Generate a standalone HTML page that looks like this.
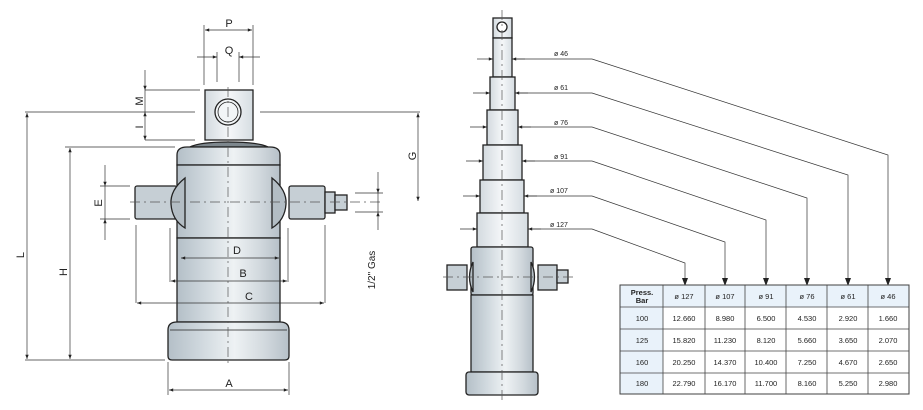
<!DOCTYPE html>
<html><head><meta charset="utf-8"><style>
html,body{margin:0;padding:0;background:#fff;}
svg{display:block;font-family:"Liberation Sans",sans-serif;}
</style></head><body>
<svg width="923" height="410" viewBox="0 0 923 410" xmlns="http://www.w3.org/2000/svg">
<defs>
<linearGradient id="g" x1="0" x2="1" y1="0" y2="0">
<stop offset="0" stop-color="#b4bfc7"/><stop offset="0.25" stop-color="#cdd6dc"/><stop offset="0.55" stop-color="#eef2f4"/><stop offset="0.8" stop-color="#d2d9de"/><stop offset="1" stop-color="#b6c0c8"/>
</linearGradient>
<linearGradient id="gl" x1="0" x2="1" y1="0" y2="0">
<stop offset="0" stop-color="#d3dadf"/><stop offset="0.5" stop-color="#f5f7f9"/><stop offset="1" stop-color="#d6dde2"/>
</linearGradient>
<marker id="ar" viewBox="0 0 10 10" refX="10" refY="5" markerWidth="7" markerHeight="6" orient="auto-start-reverse"><path d="M0,1 L10,5 L0,9z" fill="#222"/></marker>
</defs>
<g stroke="#222" stroke-width="1.3">
<rect x="205" y="90" width="48" height="50" fill="url(#gl)"/>
<circle cx="228" cy="112" r="13" fill="#f2f5f7"/><circle cx="228" cy="112" r="10" fill="none" stroke-width="0.8"/>
<path d="M190,147 Q200,142 228,142 Q258,142 268,147z" fill="#7d878d"/>
<path d="M177,165 L177,155 Q177,147 187,147 L270,147 Q280,147 280,155 L280,165z" fill="url(#g)"/>
<rect x="177" y="165" width="103" height="73" fill="url(#g)"/>
<rect x="177" y="238" width="103" height="84" fill="url(#g)"/>
<path d="M168,356 L168,330 Q168,322 177,322 L280,322 Q289,322 289,330 L289,356 Q289,360 285,360 L172,360 Q168,360 168,356z" fill="url(#g)"/>
<line x1="170" y1="330" x2="287" y2="330" stroke-width="0.8"/>
<rect x="135" y="186" width="42" height="33" rx="2" fill="#c6cfd5"/>
<rect x="289" y="186" width="36" height="33" rx="2" fill="#c6cfd5"/>
<rect x="325" y="192" width="10" height="21" fill="#c6cfd5"/>
<rect x="335" y="195" width="12" height="15" fill="#c6cfd5"/>
<path d="M185,178 Q170,190 171,204 Q172,220 185,228z" fill="#b3bdc4"/>
<path d="M272,178 Q287,190 286,204 Q285,220 272,228z" fill="#b3bdc4"/>
<rect x="493" y="18" width="19" height="20" fill="url(#gl)"/>
<circle cx="502" cy="27" r="5" fill="#fff"/>
<rect x="493" y="38" width="19" height="39" fill="url(#gl)"/>
<rect x="490" y="77" width="25" height="33" fill="url(#gl)"/>
<rect x="487" y="110" width="31" height="35" fill="url(#gl)"/>
<rect x="483" y="145" width="39" height="35" fill="url(#gl)"/>
<rect x="480" y="180" width="44" height="33" fill="url(#gl)"/>
<rect x="477" y="213" width="51" height="34" fill="url(#gl)"/>
<rect x="471" y="247" width="62" height="48" rx="2" fill="url(#g)"/>
<rect x="471" y="295" width="62" height="77" fill="url(#g)"/>
<rect x="466" y="372" width="72" height="23" rx="3" fill="url(#g)"/>
<rect x="447" y="265" width="20" height="25" fill="#c6cfd5"/>
<rect x="538" y="265" width="19" height="25" fill="#c6cfd5"/>
<rect x="557" y="270" width="11" height="13" fill="#c6cfd5"/>
<path d="M473,262 Q466,277 473,292z" fill="#b3bdc4"/>
<path d="M531,262 Q538,277 531,292z" fill="#b3bdc4"/>
</g>
<g stroke="#555" stroke-width="0.7" stroke-dasharray="10,4,2,4" fill="none">
<line x1="228" y1="87" x2="228" y2="366"/><line x1="130" y1="202" x2="380" y2="202"/>
<line x1="502" y1="10" x2="502" y2="402"/><line x1="443" y1="277" x2="574" y2="277"/>
</g>
<g stroke="#333" stroke-width="0.7" fill="none">
<path d="M204,25V85M253,25V85M217,52V82M239,52V82"/>
<path d="M145,90H200M25,112H195M145,140H195M260,112H420M65,147H175M25,360H165M100,186H130M100,219H130M355,193H383M355,212H383M136,225V303M325,225V303M170,228V282M288,228V282M168,362V395M289,362V395"/>
<line x1="205" y1="30" x2="252" y2="30" marker-start="url(#ar)" marker-end="url(#ar)"/>
<line x1="197" y1="57" x2="217" y2="57" marker-end="url(#ar)"/><line x1="260" y1="57" x2="239" y2="57" marker-end="url(#ar)"/>
<line x1="145" y1="70" x2="145" y2="90" marker-end="url(#ar)"/><line x1="145" y1="112" x2="145" y2="140" marker-start="url(#ar)" marker-end="url(#ar)"/><line x1="145" y1="90" x2="145" y2="112"/>
<line x1="27" y1="113" x2="27" y2="359" marker-start="url(#ar)" marker-end="url(#ar)"/>
<line x1="70" y1="148" x2="70" y2="359" marker-start="url(#ar)" marker-end="url(#ar)"/>
<line x1="418" y1="113" x2="418" y2="201" marker-start="url(#ar)" marker-end="url(#ar)"/>
<line x1="105" y1="165" x2="105" y2="186" marker-end="url(#ar)"/><line x1="105" y1="240" x2="105" y2="219" marker-end="url(#ar)"/><line x1="105" y1="186" x2="105" y2="219"/>
<line x1="378" y1="172" x2="378" y2="193" marker-end="url(#ar)"/><line x1="378" y1="230" x2="378" y2="212" marker-end="url(#ar)"/><line x1="378" y1="193" x2="378" y2="212"/>
<line x1="181" y1="258" x2="279" y2="258" marker-start="url(#ar)" marker-end="url(#ar)"/>
<line x1="171" y1="281" x2="287" y2="281" marker-start="url(#ar)" marker-end="url(#ar)"/>
<line x1="137" y1="303" x2="324" y2="303" marker-start="url(#ar)" marker-end="url(#ar)"/>
<line x1="169" y1="390" x2="288" y2="390" marker-start="url(#ar)" marker-end="url(#ar)"/>
<line x1="477" y1="59" x2="493" y2="59" marker-end="url(#ar)"/><path d="M512,59H592L888,155V284" /><line x1="525" y1="59" x2="512" y2="59" marker-end="url(#ar)"/>
<line x1="473" y1="93" x2="490" y2="93" marker-end="url(#ar)"/><path d="M515,93H592L848,175V284"/><line x1="528" y1="93" x2="515" y2="93" marker-end="url(#ar)"/>
<line x1="470" y1="127" x2="487" y2="127" marker-end="url(#ar)"/><path d="M518,127H592L807,198V284"/><line x1="531" y1="127" x2="518" y2="127" marker-end="url(#ar)"/>
<line x1="466" y1="161" x2="483" y2="161" marker-end="url(#ar)"/><path d="M522,161H592L766,220V284"/><line x1="535" y1="161" x2="522" y2="161" marker-end="url(#ar)"/>
<line x1="463" y1="196" x2="480" y2="196" marker-end="url(#ar)"/><path d="M524,196H592L725,242V284"/><line x1="537" y1="196" x2="524" y2="196" marker-end="url(#ar)"/>
<line x1="460" y1="229" x2="477" y2="229" marker-end="url(#ar)"/><path d="M528,229H592L685,263V284"/><line x1="541" y1="229" x2="528" y2="229" marker-end="url(#ar)"/>
<g stroke-width="0"><path d="M885,278L888,286L891,278zM845,278L848,286L851,278zM804,278L807,286L810,278zM763,278L766,286L769,278zM722,278L725,286L728,278zM682,278L685,286L688,278z" fill="#222"/></g>
</g>
<g font-size="11" fill="#222" text-anchor="middle">
<text x="229" y="27">P</text><text x="229" y="54">Q</text>
<text x="237" y="254">D</text><text x="243" y="277">B</text><text x="249" y="300">C</text><text x="229" y="387">A</text>
<text transform="translate(143,101) rotate(-90)">M</text><text transform="translate(143,127) rotate(-90)">I</text>
<text transform="translate(24,255) rotate(-90)">L</text><text transform="translate(67,272) rotate(-90)">H</text>
<text transform="translate(416,156) rotate(-90)">G</text><text transform="translate(102,203) rotate(-90)">E</text>
<text transform="translate(375,270) rotate(-90)" font-size="10">1/2" Gas</text>
</g>
<g font-size="7" fill="#222" text-anchor="middle">
<text x="561" y="56">ø 46</text><text x="561" y="90">ø 61</text><text x="561" y="125">ø 76</text><text x="561" y="159">ø 91</text><text x="559" y="193">ø 107</text><text x="559" y="227">ø 127</text>
</g>
<g>
<rect x="620" y="285" width="289" height="109" fill="#fff" stroke="#333"/>
<rect x="620.5" y="285.5" width="288" height="22" fill="#e9f2fa"/>
<rect x="620.5" y="285.5" width="42.5" height="108" fill="#e9f2fa"/>
<g stroke="#444" stroke-width="0.8">
<path d="M620,307H909M620,329H909M620,351H909M620,373H909M663,285V394M705,285V394M745,285V394M786,285V394M827,285V394M868,285V394"/>
<rect x="620" y="285" width="289" height="109" fill="none"/>
</g>
<g font-size="7.5" fill="#222" text-anchor="middle">
<text x="642" y="295" font-weight="bold">Press.</text><text x="642" y="303" font-weight="bold">Bar</text>
<text x="684" y="299">ø 127</text><text x="725" y="299">ø 107</text><text x="766" y="299">ø 91</text><text x="807" y="299">ø 76</text><text x="848" y="299">ø 61</text><text x="888" y="299">ø 46</text>
<text x="642" y="321">100</text><text x="684" y="321">12.660</text><text x="725" y="321">8.980</text><text x="766" y="321">6.500</text><text x="807" y="321">4.530</text><text x="848" y="321">2.920</text><text x="888" y="321">1.660</text>
<text x="642" y="343">125</text><text x="684" y="343">15.820</text><text x="725" y="343">11.230</text><text x="766" y="343">8.120</text><text x="807" y="343">5.660</text><text x="848" y="343">3.650</text><text x="888" y="343">2.070</text>
<text x="642" y="365">160</text><text x="684" y="365">20.250</text><text x="725" y="365">14.370</text><text x="766" y="365">10.400</text><text x="807" y="365">7.250</text><text x="848" y="365">4.670</text><text x="888" y="365">2.650</text>
<text x="642" y="386">180</text><text x="684" y="386">22.790</text><text x="725" y="386">16.170</text><text x="766" y="386">11.700</text><text x="807" y="386">8.160</text><text x="848" y="386">5.250</text><text x="888" y="386">2.980</text>
</g>
</g>
</svg>
</body></html>
